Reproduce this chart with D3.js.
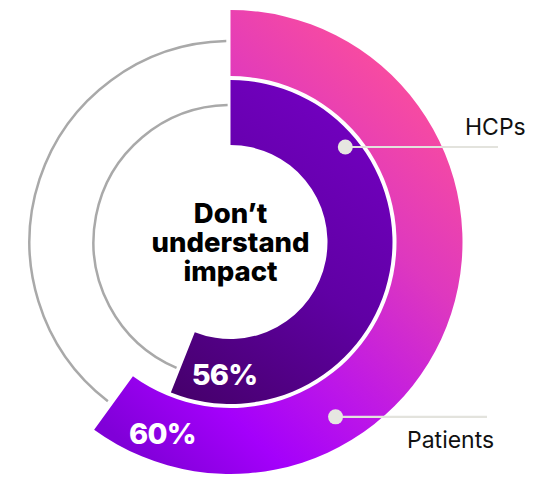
<!DOCTYPE html>
<html>
<head>
<meta charset="utf-8">
<script src="https://cdn.jsdelivr.net/npm/d3@7"></script>
<style>
  body { margin: 0; background: #fff; }
  svg { display: block; }
  text { font-family: Inter, "DejaVu Sans", sans-serif; }
</style>
</head>
<body>
<div id="chart"></div>
<script>

// data
let groups = ["HCPs", "Patients"];
let values = [56, 60];
let valueLabels = ["56%", "60%"];
let centerLines = ["Don\u2019t", "understand", "impact"];


let w = 543, h = 477;
let cx = 230.5, cy = 242;

// ring geometry, inner ring first
let rings = [
  {inner: 97, outer: 162, track: 137, grad: "gradIn", labelR: 133, labelOff: 19, dot: 149, dotAng: 50.4, lineEnd: 498, textX: 465, textY: 135},
  {inner: 166, outer: 232, track: 201, grad: "gradOut", labelR: 203, labelOff: 16.4, dot: 204, dotAng: 149, lineEnd: 487, textX: 407, textY: 448}
];

let ang = d3.scaleLinear().domain([0, 100]).range([0, 2 * Math.PI]);
let deg = Math.PI / 180;

let svg = d3.select("#chart")
    .append("svg")
    .attr("width", w)
    .attr("height", h);

let defs = svg.append("defs");

// gradient coords are relative to the ring centre
let gOut = defs.append("linearGradient")
    .attr("id", "gradOut")
    .attr("gradientUnits", "userSpaceOnUse")
    .attr("x1", 200).attr("y1", -150)
    .attr("x2", -120).attr("y2", 190);
[[0, "#fa4d9e"], [0.3, "#de38bf"], [0.6, "#bc16e8"], [0.8, "#a400fb"], [1, "#8000d8"]]
  .forEach(s => gOut.append("stop").attr("offset", s[0]).attr("stop-color", s[1]));

let gIn = defs.append("linearGradient")
    .attr("id", "gradIn")
    .attr("gradientUnits", "userSpaceOnUse")
    .attr("x1", 130).attr("y1", -130)
    .attr("x2", -60).attr("y2", 150);
[[0, "#7200c0"], [0.5, "#6000a4"], [1, "#46006c"]]
  .forEach(s => gIn.append("stop").attr("offset", s[0]).attr("stop-color", s[1]));

let g = svg.append("g")
    .attr("transform", `translate(${cx},${cy})`);

// grey tracks for the rest of each ring
rings.forEach((r, i) => {
  let a0 = ang(values[i]) + 1.6 * deg;
  let a1 = 2 * Math.PI - 1.2 * deg;
  g.append("path")
    .attr("d", d3.arc()({innerRadius: r.track, outerRadius: r.track, startAngle: a0, endAngle: a1}))
    .attr("fill", "none")
    .attr("stroke", "#a9a9a9")
    .attr("stroke-width", 2.5);
});

// value arcs
rings.forEach((r, i) => {
  g.append("path")
    .attr("d", d3.arc()({innerRadius: r.inner, outerRadius: r.outer, startAngle: 0, endAngle: ang(values[i])}))
    .attr("fill", `url(#${r.grad})`);
});

// percent labels
rings.forEach((r, i) => {
  let a = ang(values[i]) - r.labelOff * deg;
  g.append("text")
    .attr("x", r.labelR * Math.sin(a))
    .attr("y", -r.labelR * Math.cos(a))
    .attr("dy", "0.36em")
    .attr("text-anchor", "middle")
    .attr("fill", "#fff")
    .attr("font-size", 29)
    .attr("font-weight", 800)
    .attr("letter-spacing", -0.8)
    .text(valueLabels[i]);
});

// callouts
rings.forEach((r, i) => {
  let a = r.dotAng * deg;
  let x = cx + r.dot * Math.sin(a), y = cy - r.dot * Math.cos(a);
  svg.append("line")
    .attr("x1", x).attr("y1", y)
    .attr("x2", r.lineEnd).attr("y2", y)
    .attr("stroke", "#e3e3dd")
    .attr("stroke-width", 2.2);
  svg.append("circle")
    .attr("cx", x).attr("cy", y).attr("r", 7.5)
    .attr("fill", "#e6e6e1");
  svg.append("text")
    .attr("x", r.textX).attr("y", r.textY)
    .attr("font-size", 23)
    .attr("fill", "#111")
    .text(groups[i]);
});

// center text
centerLines.forEach((t, i) => {
  g.append("text")
    .attr("x", 0)
    .attr("y", -19 + i * 29)
    .attr("text-anchor", "middle")
    .attr("font-size", 27.5)
    .attr("font-weight", 800)
    .attr("fill", "#000")
    .text(t);
});

</script>
</body>
</html>
